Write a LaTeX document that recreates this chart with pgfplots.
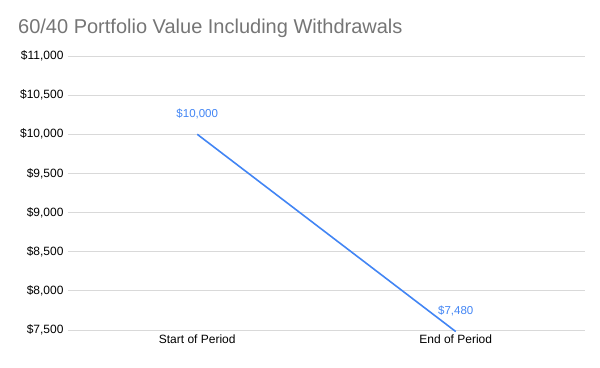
\documentclass[border=0pt]{standalone}
\usepackage{pgfplots}
\pgfplotsset{compat=1.18}
\usepackage{fontspec}
\setmainfont{Liberation Sans}
\definecolor{gblue}{HTML}{4285F4}
\definecolor{gridc}{HTML}{D9D9D9}
\definecolor{titlec}{HTML}{757575}
\begin{document}
\begin{tikzpicture}[x=1pt,y=1pt]
\useasboundingbox (0,0) rectangle (600,367);
\node[anchor=base west, text=titlec, font=\fontsize{20}{24}\selectfont, inner sep=0pt] at (18,333) {60/40 Portfolio Value Including Withdrawals};
\begin{axis}[
  at={(68pt,37pt)}, anchor=south west,
  scale only axis, width=517pt, height=274pt,
  xmin=-0.5, xmax=1.5,
  ymin=7500, ymax=11000,
  ytick={7500,8000,8500,9000,9500,10000,10500,11000},
  scaled y ticks=false,
  xtick={0,1}, xticklabels={Start of Period, End of Period},
  axis line style={draw=none},
  tick style={draw=none},
  ymajorgrids, grid style={gridc, line width=0.8pt},
  yticklabel={\$\pgfmathprintnumber[fixed,1000 sep={,}]{\tick}},
  /pgf/number format/assume math mode=true,
  ticklabel style={font=\fontsize{12}{14}\selectfont, text=black},
  yticklabel style={xshift=-1pt},
  xticklabel style={yshift=-1pt},
  clip=false,
]
\addplot[gblue, line width=1.6pt, mark=none,
  nodes near coords={\$\pgfmathprintnumber[fixed,1000 sep={,}]{\pgfplotspointmeta}},
  nodes near coords style={text=gblue, font=\fontsize{11.5}{14}\selectfont, anchor=south, yshift=11pt},
  point meta=explicit,
] coordinates {(0,10000) [10000] (1,7480) [7480]};
\end{axis}
\end{tikzpicture}
\end{document}
